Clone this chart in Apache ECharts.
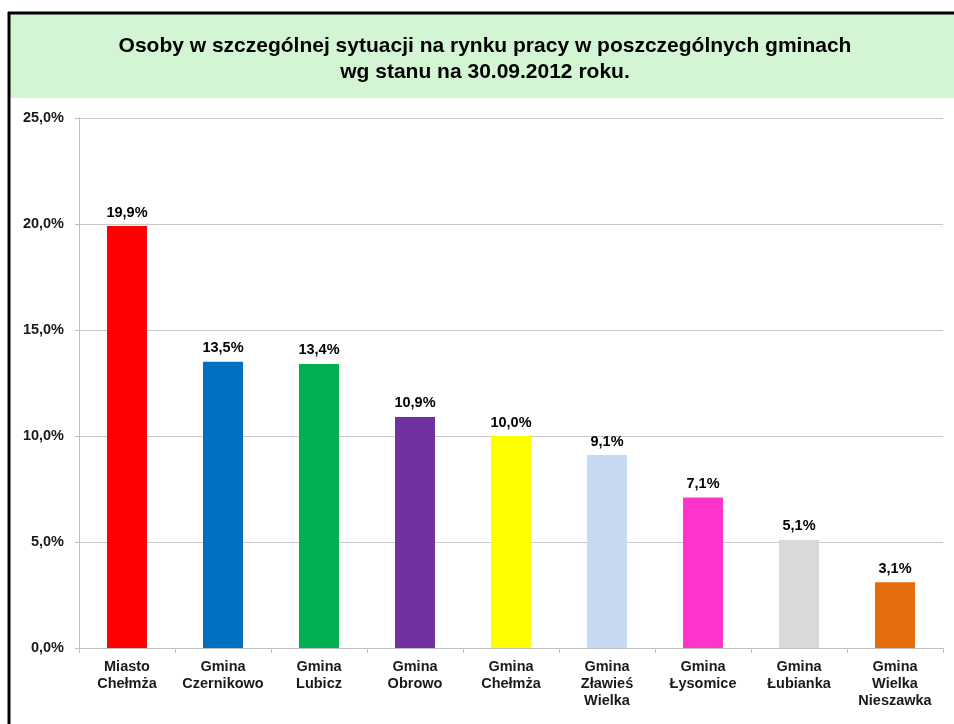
<!DOCTYPE html>
<html>
<head>
<meta charset="utf-8">
<script src="https://cdn.jsdelivr.net/npm/echarts@6/dist/echarts.min.js"></script>
<style>
  html, body { margin: 0; padding: 0; background: #fff; }
  #chart { width: 954px; height: 724px; }
</style>
</head>
<body>
<div id="chart"></div>
<script>
// dane
const categories = ['Miasto\nChełmża', 'Gmina\nCzernikowo', 'Gmina\nLubicz', 'Gmina\nObrowo', 'Gmina\nChełmża',
  'Gmina\nZławieś\nWielka', 'Gmina\nŁysomice', 'Gmina\nŁubianka', 'Gmina\nWielka\nNieszawka']
const values = [19.9, 13.5, 13.4, 10.9, 10.0, 9.1, 7.1, 5.1, 3.1]
const barColors = ['#ff0000', '#0070c0', '#00b050', '#7030a0', '#ffff00', '#c6d9f1', '#ff33cc', '#d9d9d9', '#e46c0a']
const titleLines = ['Osoby w szczególnej sytuacji na rynku pracy w poszczególnych gminach', 'wg stanu na 30.09.2012 roku.']

const pct = v => v.toFixed(1).replace('.', ',') + '%'

const chart = echarts.init(document.getElementById('chart'))
const option = {
  backgroundColor: '#fff',
  animation: false,
  textStyle: { fontFamily: 'Liberation Sans, Arial, sans-serif' },
  graphic: [
    { type: 'rect', shape: { x: 10, y: 14, width: 944, height: 84 }, style: { fill: '#d3f5d3' }, silent: true },
    { type: 'line', shape: { x1: 8, y1: 13, x2: 954, y2: 13 }, style: { stroke: '#000', lineWidth: 3 } },
    { type: 'line', shape: { x1: 9, y1: 12, x2: 9, y2: 724 }, style: { stroke: '#000', lineWidth: 3 } },
    {
      type: 'text', x: 485, y: 59,
      style: {
        text: titleLines.join('\n'), fill: '#000', align: 'center', verticalAlign: 'middle',
        font: 'bold 21px "Liberation Sans", Arial, sans-serif', lineHeight: 26
      }
    }
  ],
  grid: { left: 79, right: 11, top: 118, bottom: 76 },
  xAxis: {
    type: 'category',
    data: categories,
    axisLine: { lineStyle: { color: '#bfbfbf' } },
    axisTick: { show: true, length: 5, lineStyle: { color: '#bfbfbf' } },
    axisLabel: { color: '#1a1a1a', fontWeight: 'bold', fontSize: 14.5, lineHeight: 17, margin: 10, interval: 0 }
  },
  yAxis: {
    type: 'value',
    min: 0,
    max: 25,
    interval: 5,
    axisLine: { show: true, lineStyle: { color: '#bfbfbf' } },
    axisTick: { show: true, length: 4, lineStyle: { color: '#bfbfbf' } },
    axisLabel: { color: '#1a1a1a', fontWeight: 'bold', fontSize: 14.5, margin: 15, formatter: pct },
    splitLine: { lineStyle: { color: '#c8c8c8' } }
  },
  series: [
    {
      type: 'bar',
      barWidth: 40,
      data: values.map((v, i) => ({ value: v, itemStyle: { color: barColors[i] } })),
      label: {
        show: true, position: 'top', distance: 6, color: '#000', fontWeight: 'bold', fontSize: 14.5,
        formatter: p => pct(p.value)
      }
    }
  ]
}
chart.setOption(option)
</script>
</body>
</html>
